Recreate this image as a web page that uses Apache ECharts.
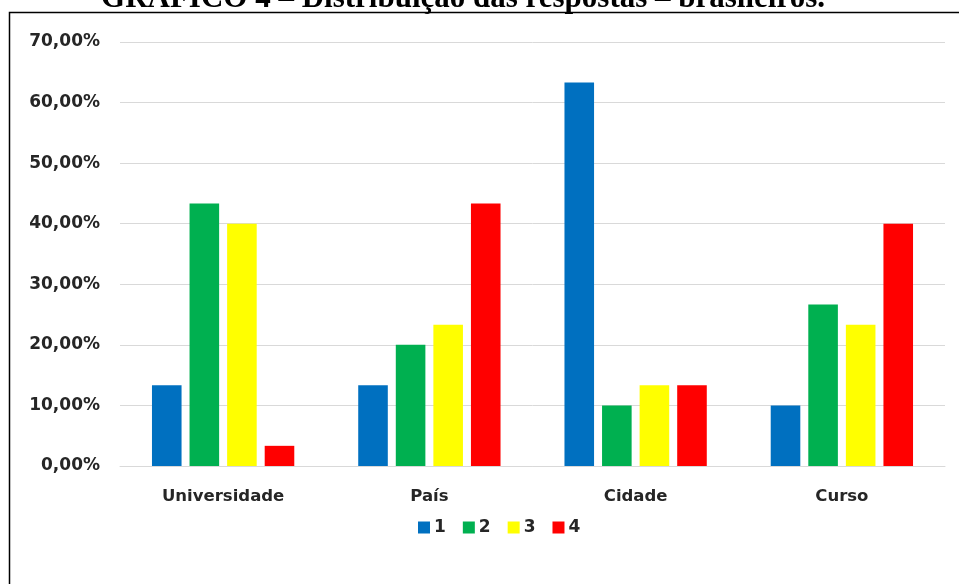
<!DOCTYPE html>
<html>
<head>
<meta charset="utf-8">
<script src="https://cdn.jsdelivr.net/npm/echarts@6/dist/echarts.min.js"></script>
<style>
  html, body { margin: 0; padding: 0; background: #ffffff; }
  #chart { width: 959px; height: 584px; }
</style>
</head>
<body>
<div id="chart"></div>
<script>
// Distribuição das respostas (brasileiros), em % por categoria
var categories = ['Universidade', 'País', 'Cidade', 'Curso'];
var seriesNames = ['1', '2', '3', '4'];
var resp1 = [13.33, 13.33, 63.33, 10.00];
var resp2 = [43.33, 20.00, 10.00, 26.67];
var resp3 = [40.00, 23.33, 13.33, 23.33];
var resp4 = [3.33, 43.33, 13.33, 40.00];
var yTicks = [0, 10, 20, 30, 40, 50, 60, 70];
var colors = ['#0070C0', '#00B050', '#FFFF00', '#FF0000'];

var seriesValues = [resp1, resp2, resp3, resp4];
var labelFont = 'DejaVu Sans';

var chart = echarts.init(document.getElementById('chart'), null, { renderer: 'canvas' });

chart.setOption({
  backgroundColor: '#ffffff',
  animation: false,
  color: colors,
  graphic: [
    {
      type: 'text',
      x: 463,
      y: -1,
      style: {
        text: 'GRÁFICO 4 – Distribuição das respostas – brasileiros.',
        font: 'bold 31px "Liberation Serif"',
        fill: '#000000',
        align: 'center',
        verticalAlign: 'middle'
      }
    },
    {
      type: 'rect',
      shape: { x: 9.5, y: 12.5, width: 1000, height: 700 },
      style: { fill: 'none', stroke: '#000000', lineWidth: 1.5 },
      z: -1
    }
  ],
  grid: { left: 120, right: 14, top: 42, bottom: 118, containLabel: false },
  legend: {
    data: seriesNames,
    left: 413,
    top: 514,
    itemWidth: 12,
    itemHeight: 12,
    itemGap: 17,
    icon: 'rect',
    textStyle: { fontFamily: labelFont, fontWeight: 'bold', fontSize: 17, color: '#262626', padding: [0, 0, 0, -1] }
  },
  xAxis: {
    type: 'category',
    data: categories,
    axisLine: { show: true, lineStyle: { color: '#d9d9d9', width: 1 } },
    axisTick: { show: false },
    axisLabel: { fontFamily: labelFont, fontWeight: 'bold', fontSize: 16.5, color: '#262626', margin: 22 }
  },
  yAxis: {
    type: 'value',
    min: yTicks[0],
    max: yTicks[yTicks.length - 1],
    interval: yTicks[1] - yTicks[0],
    axisLine: { show: false },
    axisTick: { show: false },
    splitLine: { lineStyle: { color: '#d9d9d9', width: 1 } },
    axisLabel: {
      fontFamily: labelFont,
      fontWeight: 'bold',
      fontSize: 17,
      color: '#262626',
      margin: 20,
      formatter: function (v) { return v.toFixed(2).replace('.', ',') + '%'; }
    }
  },
  series: seriesNames.map(function (name, i) {
    return {
      name: name,
      type: 'bar',
      data: seriesValues[i],
      barGap: '27%',
      barCategoryGap: '31%',
      itemStyle: { color: colors[i] }
    };
  })
});
</script>
</body>
</html>
